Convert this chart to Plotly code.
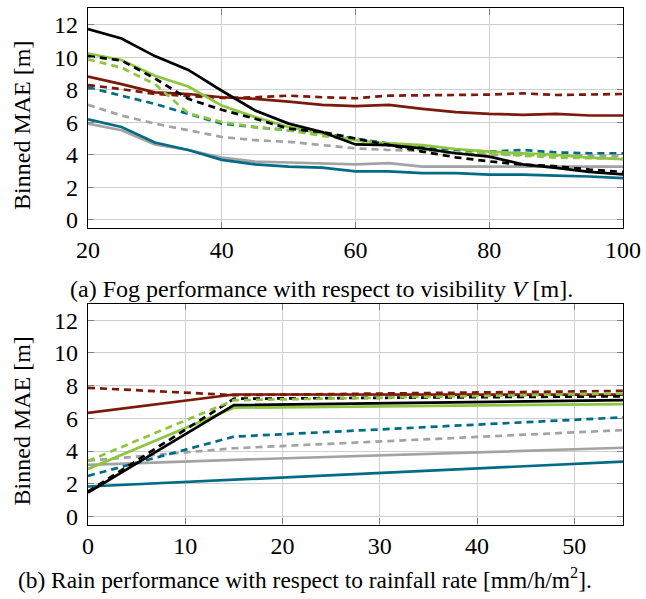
import plotly.graph_objects as go

# ---------------- data ----------------
fog_x = [20, 25, 30, 35, 40, 45, 50, 55, 60, 65, 70, 75, 80, 85, 90, 95, 100]
fog_black_solid = [11.73, 11.15, 10.07, 9.22, 7.94, 6.73, 5.92, 5.41, 4.64, 4.6, 4.4, 4.1, 3.89, 3.42, 3.2, 2.95, 2.8]
fog_black_dash = [10.07, 9.8, 8.7, 7.44, 6.77, 6.22, 5.61, 5.41, 5.0, 4.6, 4.2, 3.85, 3.6, 3.4, 3.3, 3.1, 2.95]
fog_green_solid = [10.23, 9.83, 8.86, 8.2, 7.03, 6.32, 5.71, 5.31, 4.9, 4.7, 4.6, 4.36, 4.2, 4.1, 4.0, 3.83, 3.73]
fog_green_dash = [9.87, 9.36, 8.35, 6.55, 6.02, 5.71, 5.5, 5.17, 4.9, 4.6, 4.3, 4.13, 4.1, 3.95, 3.83, 3.8, 3.75]
fog_red_solid = [8.81, 8.35, 7.84, 7.74, 7.54, 7.44, 7.27, 7.07, 6.99, 7.07, 6.83, 6.63, 6.52, 6.46, 6.52, 6.42, 6.42]
fog_red_dash = [8.29, 8.04, 7.74, 7.64, 7.5, 7.54, 7.64, 7.54, 7.48, 7.64, 7.64, 7.68, 7.7, 7.78, 7.68, 7.7, 7.74]
fog_teal_solid = [6.18, 5.71, 4.76, 4.3, 3.69, 3.42, 3.28, 3.22, 2.98, 2.98, 2.88, 2.88, 2.78, 2.78, 2.72, 2.67, 2.57]
fog_teal_dash = [8.15, 7.64, 7.13, 6.52, 5.92, 5.71, 5.51, 5.31, 5.0, 4.7, 4.5, 4.3, 4.2, 4.3, 4.15, 4.1, 4.1]
fog_gray_solid = [5.92, 5.51, 4.64, 4.3, 3.83, 3.59, 3.53, 3.49, 3.42, 3.49, 3.28, 3.28, 3.28, 3.28, 3.28, 3.28, 3.28]
fog_gray_dash = [7.07, 6.42, 5.92, 5.51, 5.1, 4.9, 4.8, 4.6, 4.4, 4.3, 4.24, 4.1, 4.0, 4.0, 3.95, 3.95, 3.9]

rain_x = [0, 15, 55]
rain_black_solid = [1.46, 6.81, 7.11]
rain_black_dash = [1.52, 7.2, 7.35]
rain_green_solid = [2.9, 6.65, 6.87]
rain_green_dash = [3.39, 7.11, 7.52]
rain_red_solid = [6.34, 7.46, 7.45]
rain_red_dash = [7.87, 7.42, 7.68]
rain_teal_solid = [1.83, 2.24, 3.35]
rain_teal_dash = [2.48, 4.88, 6.06]
rain_gray_solid = [3.15, 3.46, 4.2]
rain_gray_dash = [3.41, 4.17, 5.28]

y_ticks = [0, 2, 4, 6, 8, 10, 12]
fog_ticks = [20, 40, 60, 80, 100]
rain_ticks = [0, 10, 20, 30, 40, 50]

# ---------------- style ----------------
BLACK = "#000000"
GREEN = "#8cc63f"
RED = "#7b1a0a"
TEAL = "#006b84"
GRAY = "#a3a3a3"
FONT = "Liberation Serif"
W = 2.7
DASH = "7px,5px"

fig = go.Figure()

fog_series = [
    (fog_gray_solid, GRAY, "solid"),
    (fog_gray_dash, GRAY, DASH),
    (fog_teal_solid, TEAL, "solid"),
    (fog_teal_dash, TEAL, DASH),
    (fog_red_solid, RED, "solid"),
    (fog_red_dash, RED, DASH),
    (fog_green_solid, GREEN, "solid"),
    (fog_green_dash, GREEN, DASH),
    (fog_black_solid, BLACK, "solid"),
    (fog_black_dash, BLACK, DASH),
]
rain_series = [
    (rain_gray_solid, GRAY, "solid"),
    (rain_gray_dash, GRAY, DASH),
    (rain_teal_solid, TEAL, "solid"),
    (rain_teal_dash, TEAL, DASH),
    (rain_red_solid, RED, "solid"),
    (rain_red_dash, RED, DASH),
    (rain_green_solid, GREEN, "solid"),
    (rain_black_solid, BLACK, "solid"),
    (rain_black_dash, BLACK, DASH),
    (rain_green_dash, GREEN, DASH),
]

for ys, c, d in fog_series:
    fig.add_trace(go.Scatter(x=fog_x, y=ys, mode="lines", xaxis="x", yaxis="y",
                             line=dict(color=c, width=W, dash=d), showlegend=False))
for ys, c, d in rain_series:
    fig.add_trace(go.Scatter(x=rain_x, y=ys, mode="lines", xaxis="x2", yaxis="y2",
                             line=dict(color=c, width=W, dash=d), showlegend=False))

H = 599.0
axis_common = dict(showline=True, linecolor="black", linewidth=1.2, mirror="ticks",
                   ticks="inside", ticklen=6, tickcolor="#808080", tickwidth=1.2,
                   showgrid=True, gridcolor="#cfcfcf", gridwidth=1, zeroline=False,
                   tickfont=dict(family=FONT, size=24, color="black"))

fig.update_layout(
    width=646, height=599,
    margin=dict(l=88, r=23, t=0, b=0),
    paper_bgcolor="white", plot_bgcolor="white",
    font=dict(family=FONT, color="black"),
    xaxis=dict(domain=[0, 1], anchor="y", range=[20, 100], tickvals=fog_ticks, **axis_common),
    yaxis=dict(domain=[1 - 230 / H, 1 - 8.5 / H], anchor="x", range=[-0.5, 13],
               tickvals=y_ticks, ticklabelstandoff=4, **axis_common),
    xaxis2=dict(domain=[0, 1], anchor="y2", range=[0, 55], tickvals=rain_ticks, **axis_common),
    yaxis2=dict(domain=[1 - 529 / H, 1 - 306.5 / H], anchor="x2", range=[-0.5, 13],
                tickvals=y_ticks, ticklabelstandoff=4, **axis_common),
)

def px_to_paper_x(px):
    return (px - 88) / (646 - 88 - 23)

def px_to_paper_y(py):
    return 1 - py / H

annos = [
    dict(text="Binned MAE [m]", x=px_to_paper_x(22), y=px_to_paper_y(127), textangle=-90, size=24),
    dict(text="Binned MAE [m]", x=px_to_paper_x(22), y=px_to_paper_y(425), textangle=-90, size=24),
    dict(text="(a) Fog performance with respect to visibility <i>V</i> [m].",
         x=px_to_paper_x(321), y=px_to_paper_y(291), size=24),
    dict(text="(b) Rain performance with respect to rainfall rate [mm/h/m<sup>2</sup>].",
         x=px_to_paper_x(305), y=px_to_paper_y(583), size=23.4),
]
for a in annos:
    sz = a.pop("size")
    fig.add_annotation(xref="paper", yref="paper", showarrow=False,
                       xanchor="center", yanchor="middle",
                       font=dict(family=FONT, size=sz, color="black"), **a)

fig.write_html("out.html")
